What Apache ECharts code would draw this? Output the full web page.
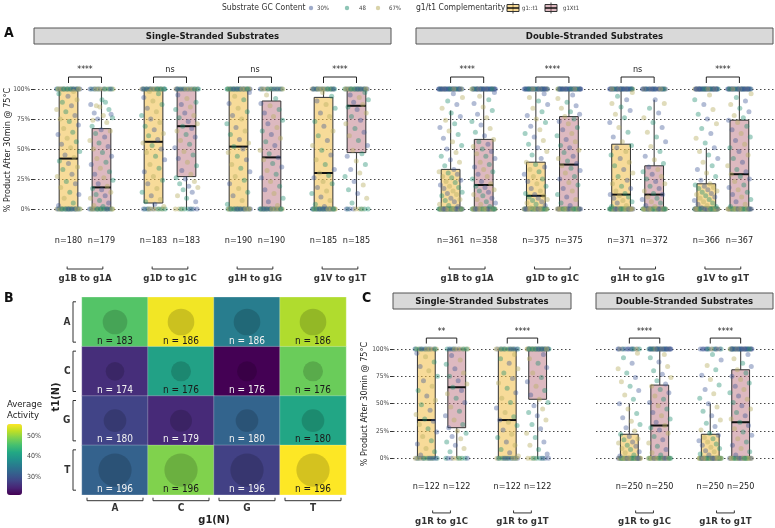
<!DOCTYPE html>
<html><head><meta charset="utf-8">
<script src="https://cdn.jsdelivr.net/npm/echarts@6/dist/echarts.min.js"></script>
<style>html,body{margin:0;padding:0;background:#fff}#c{width:775px;height:528px}</style>
</head><body><div id="c"></div>
<script>
const FONT = "'Liberation Sans Narrow','DejaVu Sans Condensed','Roboto Condensed',Roboto,sans-serif";

// ---------- categories ----------
const pairsA = ['g1B to g1A','g1D to g1C','g1H to g1G','g1V to g1T'];
const pairsC = ['g1R to g1C','g1R to g1T'];
const complementarity = ['g1::t1','g1Xt1'];
const gcLevels = ['30%','48','67%'];
const yTicks = [0,25,50,75,100];
const strandTitles = ['Single-Stranded Substrates','Double-Stranded Substrates'];
const yTitle = '% Product After 30min @ 75°C';

// ---------- box statistics [min,q1,median,q3,max]; order: pair1 g1::t1, pair1 g1Xt1, pair2 ... ----------
const boxA_ss = [[0,0,42,100,100],[0,0,18,67,100],[0,5,56,100,100],[0,27,69,100,100],[0,0,52,100,100],[0,0,43,90,100],[0,0,30,93,100],[0,47,86,100,100]];
const boxA_ds = [[0,0,0,33,82],[0,0,20,58,100],[0,0,11,39,98],[0,0,37,77,100],[0,0,12,54,100],[0,0,12,36,91],[0,0,0,21,51],[0,0,29,74,100]];
const boxC_ss = [[0,0,35,100,100],[0,28,65,100,100],[0,0,35,100,100],[0,54,100,100,100]];
const boxC_ds = [[0,0,0,22,50],[0,0,30,67,100],[0,0,0,22,50],[0,0,33,81,100]];

const nA_ss = [180,179,183,183,190,190,185,185];
const nA_ds = [361,358,375,375,371,372,366,367];
const nC_ss = [122,122,122,122];
const nC_ds = [250,250,250,250];

const sigA_ss = ['****','ns','ns','****'];
const sigA_ds = ['****','****','ns','****'];
const sigC_ss = ['**','****'];
const sigC_ds = ['****','****'];

// ---------- jittered points: number at 100%, number at 0%, values in between ----------
const topA_ss = [30,18,30,22,34,20,28,30];
const zeroA_ss = [30,26,14,10,30,30,34,10];
const midA_ss = [
 [3,5,9,12,14,18,21,23,27,29,33,35,38,40,43,45,48,51,54,56,59,62,64,67,70,73,75,78,81,83,86,89,91,94,96,98],
 [2,3,5,7,9,11,12,14,16,17,19,21,24,26,29,31,34,37,39,42,44,47,50,52,55,57,60,63,65,66,69,72,75,76,78,80,83,85,87,89,86,79,91,74],
 [2,4,6,8,11,14,17,21,24,27,31,34,37,41,44,47,50,53,55,58,61,63,66,69,72,75,78,81,84,87,90,93,96,98],
 [6,9,11,14,16,18,19,21,23,25,26,29,32,36,39,42,45,48,51,54,57,60,62,65,67,69,71,73,76,78,80,83,85,87,89,92,95],
 [4,7,11,14,17,21,24,27,31,34,37,41,44,47,50,52,55,58,62,65,68,71,75,78,81,84,88,91,94,97],
 [3,6,9,13,16,19,23,26,29,32,35,38,41,43,46,49,53,56,59,62,65,68,71,74,77,80,83,86,88,92,95],
 [2,4,7,10,13,15,18,21,23,26,28,30,33,37,41,45,49,53,57,61,65,69,73,77,80,84,87,90,94,97],
 [5,9,13,16,20,23,27,30,33,37,40,44,46,49,53,57,61,64,67,71,74,77,80,83,85,87,89,91,93,95,97]
];
const topA_ds = [40,40,40,40,40,32,45,40];
const zeroA_ds = [60,48,45,40,50,50,70,45];
const midA_ds = [
 [2,3,4,6,7,8,9,11,12,13,14,15,17,18,19,20,22,23,24,26,27,29,30,31,33,36,39,41,44,47,50,53,56,59,62,65,68,71,74,77,80,84,87,90,93,96],
 [2,4,5,6,8,9,11,12,14,15,16,18,19,21,23,25,27,29,31,33,35,37,39,42,44,46,48,50,52,54,56,58,61,64,67,70,73,76,79,82,85,88,91,94,97],
 [1,3,4,5,6,7,8,9,10,11,12,13,15,17,19,21,23,25,27,29,31,33,35,37,39,42,45,48,51,54,57,60,63,66,69,72,75,78,81,84,87,90,93,96],
 [3,5,8,10,12,15,17,20,22,25,27,30,32,34,36,38,40,42,44,47,49,51,53,56,58,61,63,66,68,71,73,75,77,79,81,84,86,89,92,95],
 [2,3,5,6,7,9,10,11,12,13,15,17,19,21,24,27,30,33,36,39,42,45,48,51,53,56,60,64,68,72,76,79,82,85,88,91,94,97],
 [2,3,5,6,8,9,10,12,13,15,17,19,21,23,25,27,29,31,33,35,38,41,44,48,52,56,60,64,68,72,76,80,84,88,91],
 [1,2,3,4,5,6,7,8,9,10,11,12,13,14,15,16,17,18,19,20,21,24,27,30,33,36,39,42,45,48,51,55,59,63,67,71,75,79,83,87,91,95],
 [2,4,6,8,10,12,14,16,18,20,23,25,27,29,31,33,36,39,42,45,48,51,54,57,60,63,66,69,72,74,76,78,81,84,87,90,93,96]
];
const topC_ss = [18,14,18,35];
const zeroC_ss = [18,10,18,10];
const midC_ss = [
 [3,6,9,13,16,20,24,27,31,34,36,40,44,49,53,57,62,66,71,75,80,84,88,93,96],
 [6,9,12,15,18,20,23,25,28,31,35,39,43,47,51,55,59,62,65,68,71,75,78,82,86,90,94],
 [2,5,8,12,15,19,22,26,30,33,35,38,42,46,51,55,60,64,69,73,78,82,87,91,95],
 [4,8,12,15,19,23,27,31,35,39,42,45,48,51,54,58,62,66,70,74,78,83,87,91,95]
];
const topC_ds = [15,35,15,35];
const zeroC_ds = [45,30,45,30];
const midC_ds = [
 [2,3,5,6,8,9,11,12,14,15,17,18,20,22,25,28,31,34,37,41,45,50,54,58,62,66,70,74,78,82,87,92,96],
 [3,5,8,11,14,17,20,23,26,28,30,33,36,39,42,45,48,51,54,57,60,63,66,68,71,74,77,80,84,88,92,95],
 [1,3,4,6,7,9,10,12,13,15,16,18,19,21,23,26,29,32,35,39,43,47,50,55,59,63,67,72,76,81,85,90,95],
 [3,6,9,12,15,18,21,24,27,30,33,36,39,42,45,48,51,54,57,60,63,66,69,72,75,78,81,84,87,91,95]
];

// ---------- heatmap ----------
const g1Bases = ['A','C','G','T'];
const t1Bases = ['A','C','G','T'];
const avgActivity = [
 [46.5,55.2,35.8,51.7],
 [25.8,41.0,21.3,47.9],
 [28.2,25.4,32.3,41.7],
 [32.0,49.2,27.9,55.8]
];
const cellN = [
 [183,186,186,186],
 [174,176,176,176],
 [180,179,180,180],
 [196,196,196,196]
];
const colorbarTicks = [30,40,50];

// ---------- styles ----------
const gcColors = ['rgba(62,88,150,0.5)','rgba(30,140,110,0.5)','rgba(185,175,100,0.55)'];
const boxFill = ['rgba(240,190,70,0.55)','rgba(180,100,115,0.45)'];
const viridis = ['#440154','#482475','#414487','#355f8d','#2a788e','#21918c','#22a884','#44bf70','#7ad151','#bddf26','#fde725'];
const BOXW = 0.22;

function font(size, weight){ return (weight||'normal') + ' ' + size + 'px ' + FONT; }
function txt(text, x, y, size, o){
  o = o || {};
  return {type:'text', x:x, y:y, rotation:o.rot||0, z:o.z||10, style:{text:text, font:font(size,o.weight), fill:o.color||'#222',
    textAlign:o.align||'center', textVerticalAlign:o.va||'middle', align:o.align||'center', verticalAlign:o.va||'middle'}};
}

const grids = [], xAxes = [], yAxes = [], series = [];

function renderBox(params, api){
  const x = api.value(0);
  const c = api.coord([x, 0])[0];
  const hw = api.size([BOXW, 0])[0] / 2;
  const py = k => api.coord([x, api.value(k)])[1];
  const pMin = py(1), pQ1 = py(2), pMed = py(3), pQ3 = py(4), pMax = py(5);
  const g = api.value(6);
  return {type:'group', children:[
    {type:'line', shape:{x1:c,y1:pQ3,x2:c,y2:pMax}, style:{stroke:'#444',lineWidth:1.1}},
    {type:'line', shape:{x1:c,y1:pQ1,x2:c,y2:pMin}, style:{stroke:'#444',lineWidth:1.1}},
    {type:'rect', shape:{x:c-hw,y:pQ3,width:2*hw,height:Math.max(pQ1-pQ3,0.5)}, style:{fill:boxFill[g],stroke:'#333',lineWidth:1}},
    {type:'line', shape:{x1:c-hw,y1:pMed,x2:c+hw,y2:pMed}, style:{stroke:'#111',lineWidth:2}}
  ]};
}

function makePanel(L){
  const gi = grids.length;
  grids.push({left:L.left, top:L.top, width:L.width, height:L.height, outerBoundsMode:'none'});
  xAxes.push({gridIndex:gi, type:'value', min:0.4, max:L.pairs.length+0.6, show:false});
  yAxes.push({gridIndex:gi, type:'value', min:0, max:100, interval:25,
    axisLine:{show:false},
    axisTick:{show:L.labels, length:3, lineStyle:{color:'#333'}},
    axisLabel:{show:L.labels, formatter:'{value}%', fontSize:6.5, color:'#444', margin:4, fontFamily:FONT},
    splitLine:{show:true, lineStyle:{type:[1.5,2.5], color:'#333', width:0.9}}});
  const xOf = k => Math.floor(k/2) + 1 + (k%2 ? L.dodge : -L.dodge);
  series.push({type:'custom', xAxisIndex:gi, yAxisIndex:gi, clip:false, z:2, silent:true,
    data:L.stats.map((s,k)=>[xOf(k), s[0], s[1], s[2], s[3], s[4], k%2]), renderItem:renderBox});
  const pts = [];
  L.stats.forEach((s,k)=>{
    const x0 = xOf(k); let idx = 0;
    const push = (v, cls) => {
      const f = ((idx*0.6180339887 + k*0.37) % 1) - 0.5;
      pts.push({value:[x0 + f*2*L.jitter, v], itemStyle:{color:gcColors[cls]}}); idx++;
    };
    for (let t=0;t<L.tops[k];t++) push(100, L.ds ? [0,0,1,0,0,2][t%6] : (t+k)%3);
    for (let t=0;t<L.zeros[k];t++) push(0, L.ds ? [2,1,2,0][t%4] : (t+1)%3);
    L.mids[k].forEach((v,t)=>push(v, (t+k)%3));
  });
  series.push({type:'scatter', xAxisIndex:gi, yAxisIndex:gi, symbolSize:5, data:pts, z:3, silent:true, clip:false, animation:false});
  series.push({type:'custom', xAxisIndex:gi, yAxisIndex:gi, clip:false, z:5, silent:true,
    data:L.pairs.map((p,i)=>[i+1]),
    renderItem:function(params, api){
      const i = params.dataIndex, xc = api.value(0);
      const xl = api.coord([xc-L.dodge,0])[0], xr = api.coord([xc+L.dodge,0])[0], cx = api.coord([xc,0])[0];
      const yB = api.coord([xc,110])[1], yBe = api.coord([xc,105])[1], yS = api.coord([xc,116])[1];
      const yN = api.coord([xc,-26])[1], yBr = api.coord([xc,-50])[1], yLab = api.coord([xc,-58])[1];
      const bh = api.size([L.bracketHalf,0])[0];
      return {type:'group', children:[
        {type:'polyline', shape:{points:[[xl,yBe],[xl,yB],[xr,yB],[xr,yBe]]}, style:{stroke:'#222',fill:null,lineWidth:1}},
        txt(L.sigs[i], cx, yS, L.sigs[i]==='ns'?9:8.5, {color:'#222'}),
        txt('n='+L.ns[2*i], xl, yN, 9, {color:'#222'}),
        txt('n='+L.ns[2*i+1], xr, yN, 9, {color:'#222'}),
        {type:'polyline', shape:{points:[[cx-bh,yBr-2.5],[cx-bh,yBr],[cx+bh,yBr],[cx+bh,yBr-2.5]]}, style:{stroke:'#333',fill:null,lineWidth:1}},
        txt(L.pairs[i], cx, yLab, 9.5, {weight:'bold', color:'#333'})
      ]};
    }});
}

makePanel({left:34, top:89, width:357, height:120, pairs:pairsA, stats:boxA_ss, tops:topA_ss, zeros:zeroA_ss, mids:midA_ss, ns:nA_ss, sigs:sigA_ss, dodge:0.194, jitter:0.14, bracketHalf:0.21, labels:true, ds:false});
makePanel({left:416, top:89, width:358, height:120, pairs:pairsA, stats:boxA_ds, tops:topA_ds, zeros:zeroA_ds, mids:midA_ds, ns:nA_ds, sigs:sigA_ds, dodge:0.194, jitter:0.14, bracketHalf:0.21, labels:false, ds:true});
makePanel({left:393, top:349, width:178, height:109.3, pairs:pairsC, stats:boxC_ss, tops:topC_ss, zeros:zeroC_ss, mids:midC_ss, ns:nC_ss, sigs:sigC_ss, dodge:0.188, jitter:0.14, bracketHalf:0.11, labels:true, ds:false});
makePanel({left:596, top:349, width:178, height:109.3, pairs:pairsC, stats:boxC_ds, tops:topC_ds, zeros:zeroC_ds, mids:midC_ds, ns:nC_ds, sigs:sigC_ds, dodge:0.188, jitter:0.14, bracketHalf:0.11, labels:false, ds:true});

// ---------- heatmap grid ----------
const hg = grids.length;
grids.push({left:82, top:297.3, width:264, height:197.4, outerBoundsMode:'none'});
xAxes.push({gridIndex:hg, type:'category', data:g1Bases, axisLine:{show:false}, axisTick:{show:false}, axisLabel:{show:false}, splitLine:{show:false}});
yAxes.push({gridIndex:hg, type:'category', data:t1Bases, inverse:true, axisLine:{show:false}, axisTick:{show:false}, axisLabel:{show:false}, splitLine:{show:false}});
const heatData = [], circData = [];
t1Bases.forEach((t,r)=>g1Bases.forEach((g,c)=>{
  heatData.push([c, r, avgActivity[r][c]]);
  circData.push([c, r, cellN[r][c], avgActivity[r][c]]);
}));
const heatIdx = series.length;
series.push({type:'heatmap', xAxisIndex:hg, yAxisIndex:hg, data:heatData, z:2, silent:true,
  itemStyle:{borderColor:'rgba(255,255,255,0.25)', borderWidth:1}});
series.push({type:'scatter', xAxisIndex:hg, yAxisIndex:hg, data:circData, z:3, silent:true,
  symbolSize: v => 20 + (v[2]-176)*0.665, itemStyle:{color:'rgba(0,0,0,0.2)'}});
series.push({type:'custom', xAxisIndex:hg, yAxisIndex:hg, data:circData, z:4, silent:true, clip:false,
  renderItem:function(params, api){
    const c = api.coord([api.value(0), api.value(1)]), sz = api.size([1,1]);
    const light = api.value(3) > 38;
    return txt('n = '+api.value(2), c[0], c[1]+sz[1]/2-5.5, 10, {color: light ? '#1a1a1a' : '#f2f2f2'});
  }});
series.push({type:'custom', xAxisIndex:hg, yAxisIndex:hg, data:[[0],[1],[2],[3]], z:4, silent:true, clip:false,
  renderItem:function(params, api){
    const i = api.value(0), sz = api.size([1,1]);
    const cx = api.coord([i,0])[0], cy = api.coord([0,i])[1];
    const bottom = api.coord([0,3])[1] + sz[1]/2, left = api.coord([0,0])[0] - sz[0]/2;
    const yb = bottom + 6, xl = cx - sz[0]/2 + 5, xr = cx + sz[0]/2 - 5;
    const xb = left - 9, yt = cy - sz[1]/2 + 4.5, ybt = cy + sz[1]/2 - 4.5;
    return {type:'group', children:[
      {type:'polyline', shape:{points:[[xl,yb-3],[xl,yb],[xr,yb],[xr,yb-3]]}, style:{stroke:'#333',fill:null,lineWidth:1}},
      txt(g1Bases[i], cx, yb+7.5, 10, {weight:'bold', color:'#333'}),
      {type:'polyline', shape:{points:[[xb+3,yt],[xb,yt],[xb,ybt],[xb+3,ybt]]}, style:{stroke:'#333',fill:null,lineWidth:1}},
      txt(t1Bases[i], xb-2.5, cy, 10, {weight:'bold', color:'#333', align:'right'})
    ]};
  }});

// ---------- colorbar axis ----------
const flat = avgActivity.flat();
const vmin = Math.min.apply(null, flat), vmax = Math.max.apply(null, flat);
const cg = grids.length;
grids.push({left:7, top:424, width:15, height:71, outerBoundsMode:'none'});
xAxes.push({gridIndex:cg, type:'value', show:false});
yAxes.push({gridIndex:cg, type:'value', min:vmin, max:vmax, position:'right',
  axisLine:{show:false}, splitLine:{show:false},
  axisTick:{show:true, inside:true, length:3, lineStyle:{color:'#fff'}, customValues:colorbarTicks},
  axisLabel:{formatter:'{value}%', customValues:colorbarTicks, fontSize:7, color:'#444', margin:5, fontFamily:FONT}});

// ---------- graphic annotations ----------
const G = [];
function strip(x, y, w, h, label){
  G.push({type:'rect', shape:{x:x, y:y, width:w, height:h}, style:{fill:'#d9d9d9', stroke:'#555', lineWidth:1}, z:5});
  G.push(txt(label, x+w/2, y+h/2+0.5, 9.5, {weight:'bold', color:'#1a1a1a'}));
}
strip(34, 28, 357, 16, strandTitles[0]);
strip(416, 28, 357, 16, strandTitles[1]);
strip(393, 293, 178, 16, strandTitles[0]);
strip(596, 293, 177, 16, strandTitles[1]);
G.push(txt('A', 4, 33, 14, {weight:'bold', color:'#111', align:'left'}));
G.push(txt('B', 4, 298, 14, {weight:'bold', color:'#111', align:'left'}));
G.push(txt('C', 362, 298, 14, {weight:'bold', color:'#111', align:'left'}));
G.push(txt(yTitle, 8, 150, 9, {rot:Math.PI/2, color:'#222'}));
G.push(txt(yTitle, 365, 404, 9, {rot:Math.PI/2, color:'#222'}));
G.push(txt('t1(N)', 56, 397, 11, {rot:Math.PI/2, weight:'bold', color:'#222'}));
G.push(txt('g1(N)', 214, 520, 11, {weight:'bold', color:'#222'}));
G.push(txt('Average', 7, 405, 9.5, {align:'left', color:'#222'}));
G.push(txt('Activity', 7, 415.5, 9.5, {align:'left', color:'#222'}));
// legend
G.push(txt('Substrate GC Content', 222, 8, 8.5, {align:'left', color:'#333'}));
const gcDotX = [311, 347, 378], gcLabX = [317, 359, 389];
gcLevels.forEach((l,i)=>{
  G.push({type:'circle', shape:{cx:gcDotX[i], cy:8, r:2.2}, style:{fill:gcColors[i]}, z:10});
  G.push(txt(l, gcLabX[i], 8, 6, {align:'left', color:'#444'}));
});
G.push(txt('g1/t1 Complementarity', 416, 8, 8.5, {align:'left', color:'#333'}));
const iconX = [507, 545], iconLabX = [522, 563];
complementarity.forEach((l,i)=>{
  const x = iconX[i];
  G.push({type:'line', shape:{x1:x+6,y1:2.5,x2:x+6,y2:13.5}, style:{stroke:'#444',lineWidth:1}, z:10});
  G.push({type:'rect', shape:{x:x,y:4.5,width:12,height:7}, style:{fill:boxFill[i],stroke:'#333',lineWidth:1}, z:10});
  G.push({type:'line', shape:{x1:x,y1:8,x2:x+12,y2:8}, style:{stroke:'#111',lineWidth:1.5}, z:11});
  G.push(txt(l, iconLabX[i], 8, 6, {align:'left', color:'#444'}));
});

const chart = echarts.init(document.getElementById('c'), null, {renderer:'canvas'});
chart.setOption({
  animation:false,
  backgroundColor:'#fff',
  textStyle:{fontFamily:FONT},
  grid:grids, xAxis:xAxes, yAxis:yAxes,
  visualMap:{type:'continuous', min:vmin, max:vmax, seriesIndex:heatIdx, show:true, calculable:false,
    left:7, top:424, itemWidth:15, itemHeight:71, padding:0, text:null, orient:'vertical',
    inRange:{color:viridis}},
  series:series,
  graphic:{elements:G}
});
</script></body></html>
